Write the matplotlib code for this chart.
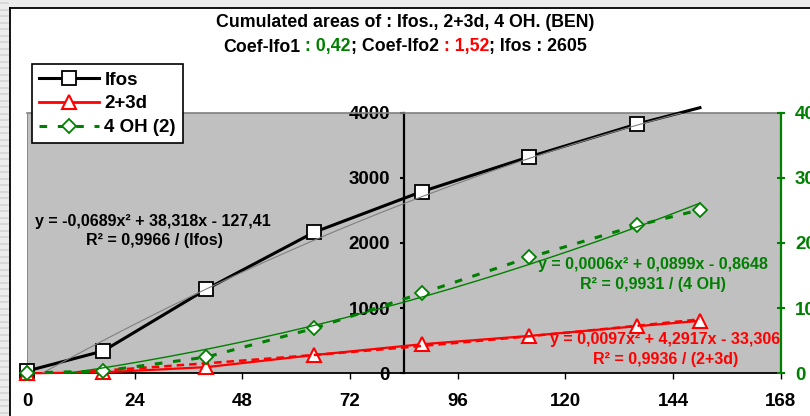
import matplotlib
matplotlib.use('Agg')
import matplotlib.pyplot as plt
import numpy as np
from matplotlib.lines import Line2D
from matplotlib.patches import Rectangle

plt.rcParams['font.family'] = ['Liberation Sans', 'DejaVu Sans']
plt.rcParams['font.weight'] = 'bold'

# ---------------- data ----------------
hours = [0, 17, 40, 64, 88, 112, 136, 150]
ifos = [35, 343, 1292, 2165, 2789, 3323, 3826, 4077]
d23 = [0, 15, 95, 280, 446, 574, 723, 805]
oh4 = [0.05, 0.35, 2.5, 6.9, 12.3, 17.8, 22.7, 25.1]

coef_ifos = [-0.0689, 38.318, -127.41]
coef_d23 = [0.0097, 4.2917, -33.306]
coef_oh4 = [0.0006, 0.0899, -0.8648]

x_ticks = [0, 24, 48, 72, 96, 120, 144, 168]
left_ticks = [0, 1000, 2000, 3000, 4000]
right_ticks = [0, 10, 20, 30, 40]

labels = ['Ifos', '2+3d', '4 OH (2)']
eq_ifos = ['y = -0,0689x² + 38,318x - 127,41', 'R² = 0,9966 / (Ifos)']
eq_oh4 = ['y = 0,0006x² + 0,0899x - 0,8648', 'R² = 0,9931 / (4 OH)']
eq_d23 = ['y = 0,0097x² + 4,2917x - 33,306', 'R² = 0,9936 / (2+3d)']
title1 = 'Cumulated areas of : Ifos., 2+3d, 4 OH. (BEN)'
title2 = [('Coef-Ifo1', 'black'), (' : 0,42', '#008000'), ('; Coef-Ifo2', 'black'),
          (' : 1,52', '#ff0000'), ('; Ifos : 2605', 'black')]

GREEN = '#008000'
RED = '#ff0000'

W, H = 810, 416
fig = plt.figure(figsize=(W / 100, H / 100), dpi=100)


def fx(px):
    return px / W


def fy(py):
    return 1 - py / H


# background stripes / outer frame (screenshot decoration)
fig.add_artist(Rectangle((0, fy(416)), fx(9), 1, transform=fig.transFigure,
                         facecolor='#ececec', edgecolor='none', zorder=-5))
fig.add_artist(Rectangle((0, fy(7)), 1, 7 / H, transform=fig.transFigure,
                         facecolor='#ececec', edgecolor='none', zorder=-5))
for yy in np.arange(3, 416, 6.5):
    fig.add_artist(Line2D([0, fx(8)], [fy(yy), fy(yy)], transform=fig.transFigure,
                          color='#d4d4d4', lw=1.2, zorder=-4))
fig.add_artist(Line2D([fx(10), fx(10)], [fy(7.5), 0], transform=fig.transFigure,
                      color='black', lw=1.3))
fig.add_artist(Line2D([fx(10), 1], [fy(7.5), fy(7.5)], transform=fig.transFigure,
                      color='black', lw=1.3))

L, R, T, B = 27, 780.7, 112.7, 373.3
ax = fig.add_axes([fx(L), fy(B), (R - L) / W, (B - T) / H])
ax.set_facecolor('#c0c0c0')
ax.set_xlim(0, 168)
ax.set_ylim(0, 4000)
ax2 = ax.twinx()
ax2.set_ylim(0, 40)

# spines
ax.spines['left'].set_position(('data', 84))
ax.spines['left'].set_color('black')
ax.spines['left'].set_linewidth(1.6)
ax.spines['bottom'].set_color('black')
ax.spines['bottom'].set_linewidth(1.3)
ax.spines['top'].set_color('#808080')
ax.spines['top'].set_linewidth(1.2)
ax.spines['right'].set_visible(False)
for s in ['left', 'top', 'bottom']:
    ax2.spines[s].set_visible(False)
ax2.spines['right'].set_color(GREEN)
ax2.spines['right'].set_linewidth(1.6)
ax.axvline(0, color='#808080', lw=1.2, zorder=0.5)

ax.set_xticks(x_ticks)
ax.set_yticks(left_ticks)
ax2.set_yticks(right_ticks)
ax.tick_params(axis='x', direction='out', length=4, width=1.0, pad=10, labelsize=13.5)
ax.tick_params(axis='y', direction='out', length=3, width=1.5, pad=7, labelsize=13.5)
ax2.tick_params(axis='y', direction='inout', length=6, width=1.5, color=GREEN,
                labelcolor=GREEN, pad=7.3, labelsize=13.5)
for t in ax.get_xticklabels() + ax.get_yticklabels() + ax2.get_yticklabels():
    t.set_fontweight('bold')

# series
xs = np.linspace(0, hours[-1], 200)
ax.plot(hours, ifos, color='black', lw=2.2, marker='s', ms=9.5, mfc='white', mec='black',
        mew=1.3, markevery=list(range(len(hours) - 1)), clip_on=False, zorder=3)
ax.plot(hours, d23, color=RED, lw=1.6, marker='^', ms=10.5, mfc='white', mec=RED,
        mew=1.5, clip_on=False, zorder=3)
ax.plot(xs, np.polyval(coef_ifos, xs), color='#808080', lw=0.8, zorder=4)
ax.plot(xs, np.polyval(coef_d23, xs), color=RED, lw=1.8, ls=(0, (3, 2)), zorder=4)
ax2.plot(hours, oh4, color=GREEN, lw=2.2, ls=(0, (2.5, 3.5)), marker='D', ms=7.5,
         mfc='white', mec=GREEN, mew=1.3, clip_on=False, zorder=3)
ax2.plot(xs, np.polyval(coef_oh4, xs), color=GREEN, lw=1.0, zorder=4)

# equations
EQS = 11.5
fig.text(fx(152.5), fy(226), eq_ifos[0], ha='center', va='baseline', fontsize=EQS,
         fontweight='bold', color='black')
fig.text(fx(154.3), fy(244.5), eq_ifos[1], ha='center', va='baseline', fontsize=EQS,
         fontweight='bold', color='black')
fig.text(fx(653.3), fy(268.5), eq_oh4[0], ha='center', va='baseline', fontsize=EQS,
         fontweight='bold', color=GREEN)
fig.text(fx(652.5), fy(288.5), eq_oh4[1], ha='center', va='baseline', fontsize=EQS,
         fontweight='bold', color=GREEN)
fig.text(fx(665), fy(344), eq_d23[0], ha='center', va='baseline', fontsize=EQS,
         fontweight='bold', color=RED)
fig.text(fx(665.8), fy(364), eq_d23[1], ha='center', va='baseline', fontsize=EQS,
         fontweight='bold', color=RED)

# title
TS = 12.8
fig.text(0.5, fy(27), title1, ha='center', va='baseline', fontsize=TS, fontweight='bold')
parts = [fig.text(0, fy(51.5), s, color=c, ha='left', va='baseline', fontsize=TS,
                  fontweight='bold') for s, c in title2]
fig.canvas.draw()
rend = fig.canvas.get_renderer()
widths = [p.get_window_extent(rend).width for p in parts]
x0 = W / 2 - sum(widths) / 2
for p, w in zip(parts, widths):
    p.set_x(fx(x0))
    x0 += w

# legend
handles = [
    Line2D([], [], color='black', lw=2.2, marker='s', ms=9.5, mfc='white', mec='black', mew=1.3),
    Line2D([], [], color=RED, lw=2.0, marker='^', ms=10.5, mfc='white', mec=RED, mew=1.5),
    Line2D([], [], color=GREEN, lw=2.2, ls=(0, (2.5, 3.5)), marker='D', ms=7.5, mfc='white',
           mec=GREEN, mew=1.3),
]
leg = fig.legend(handles, labels, loc='upper left', bbox_to_anchor=(fx(31.7), fy(64.3)),
                 frameon=True, fancybox=False, edgecolor='black', framealpha=1,
                 borderaxespad=0, handlelength=3.2, handletextpad=0.3, labelspacing=0.36,
                 borderpad=0.38, numpoints=1, prop=dict(weight='bold', size=13.5))
leg.get_frame().set_linewidth(1.2)

fig.savefig('out.png', dpi=100)
